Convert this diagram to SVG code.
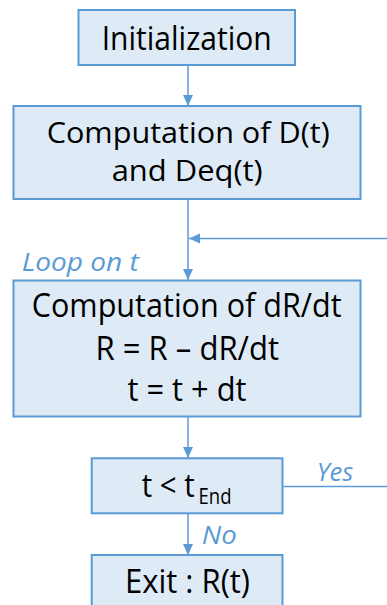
<svg xmlns="http://www.w3.org/2000/svg" width="387" height="605" viewBox="0 0 387 605">
  <defs>
    <marker id="arr" markerUnits="userSpaceOnUse" markerWidth="12" markerHeight="11" refX="11" refY="5" orient="auto">
      <path d="M0,0 L11,5 L0,10 z" fill="#5B9BD5"/>
    </marker>
    <style>
      .box { fill: #DEEBF7; stroke: #5B9BD5; stroke-width: 2; }
      .t { font-family: "Open Sans", "Liberation Sans", sans-serif; font-size: 32px; fill: #000; }
      .t2 { font-size: 30px; }
      .lbl { font-family: "Open Sans", "Liberation Sans", sans-serif; font-size: 26px; font-style: italic; fill: #5B9BD5; }
      .c { fill: none; stroke: #5B9BD5; stroke-width: 1.5; }
    </style>
  </defs>
  <rect width="387" height="605" fill="#ffffff"/>

  <g id="connectors">
    <line class="c" x1="188" y1="65" x2="188" y2="106" marker-end="url(#arr)"/>
    <line class="c" x1="188" y1="199" x2="188" y2="280" marker-end="url(#arr)"/>
    <line class="c" x1="387" y1="238.5" x2="189" y2="238.5" marker-end="url(#arr)"/>
    <line class="c" x1="188" y1="417" x2="188" y2="458" marker-end="url(#arr)"/>
    <line class="c" x1="282.5" y1="486.5" x2="387" y2="486.5"/>
    <line class="c" x1="188" y1="513" x2="188" y2="555" marker-end="url(#arr)"/>
  </g>

  <g id="init">
    <rect class="box" x="78.5" y="10" width="216.5" height="55"/>
    <text class="t" x="101.7" y="50" textLength="170" lengthAdjust="spacingAndGlyphs">Initialization</text>
  </g>

  <g id="computeD">
    <rect class="box" x="13.5" y="106" width="347" height="93"/>
    <text class="t t2" x="46.7" y="143.3" textLength="283" lengthAdjust="spacingAndGlyphs">Computation of D(t)</text>
    <text class="t t2" x="111.7" y="181" textLength="151" lengthAdjust="spacingAndGlyphs">and Deq(t)</text>
  </g>

  <g id="loopLabel">
    <text class="lbl" x="21.7" y="270.5" textLength="117" lengthAdjust="spacingAndGlyphs">Loop on t</text>
  </g>

  <g id="computeR">
    <rect class="box" x="13.5" y="280.5" width="347" height="136"/>
    <text class="t" x="31.7" y="317.3" textLength="310" lengthAdjust="spacingAndGlyphs">Computation of dR/dt</text>
    <text class="t" x="95.5" y="360" textLength="183.5" lengthAdjust="spacingAndGlyphs">R = R – dR/dt</text>
    <text class="t" x="127.5" y="401" textLength="119" lengthAdjust="spacingAndGlyphs">t = t + dt</text>
  </g>

  <g id="test">
    <rect class="box" x="91.7" y="458.3" width="190.8" height="55"/>
    <text class="t" x="141.7" y="496.7" textLength="53" lengthAdjust="spacingAndGlyphs">t &lt; t</text>
    <text class="t" x="198.5" y="504" style="font-size:21px" textLength="33" lengthAdjust="spacingAndGlyphs">End</text>
  </g>

  <g id="yesLabel">
    <text class="lbl" x="316.7" y="480.7" textLength="36.6" lengthAdjust="spacingAndGlyphs">Yes</text>
  </g>
  <g id="noLabel">
    <text class="lbl" x="201.7" y="544" textLength="35" lengthAdjust="spacingAndGlyphs">No</text>
  </g>

  <g id="exit">
    <rect class="box" x="91.7" y="555" width="190.8" height="60"/>
    <text class="t" x="125" y="593.3" textLength="125" lengthAdjust="spacingAndGlyphs">Exit : R(t)</text>
  </g>
</svg>
